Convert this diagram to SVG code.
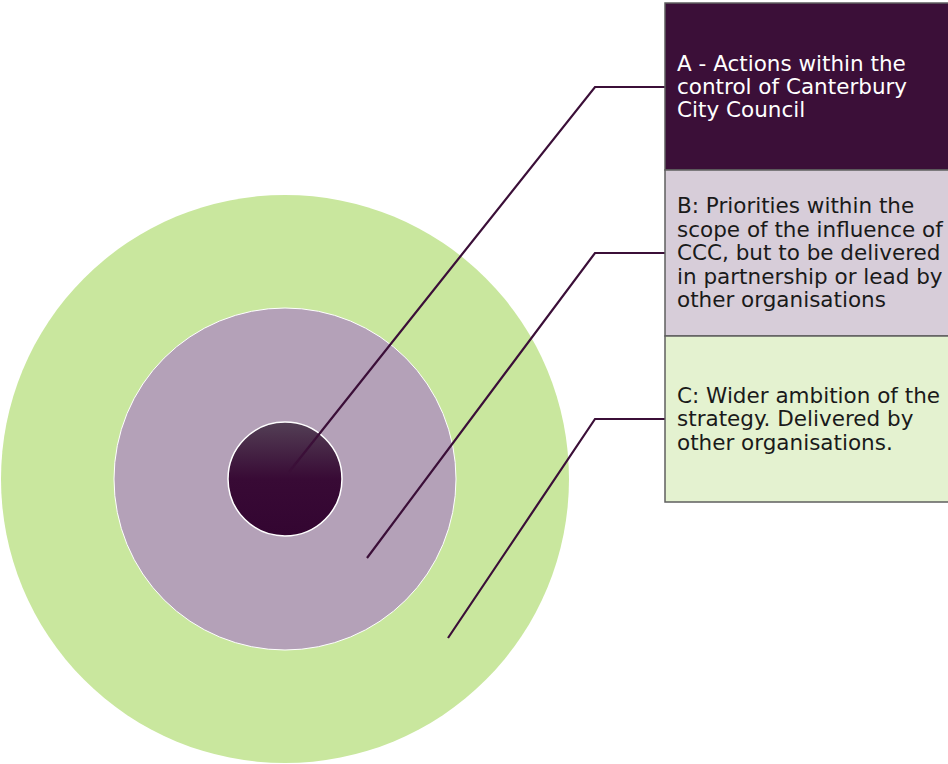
<svg xmlns="http://www.w3.org/2000/svg" width="948" height="764" viewBox="0 0 948 764">
<defs>
<linearGradient id="gA" x1="0" y1="0" x2="0" y2="1">
<stop offset="0" stop-color="#533f55"/>
<stop offset="0.5" stop-color="#380a35"/>
<stop offset="1" stop-color="#330531"/>
</linearGradient>
<style>
.box{stroke:#5f5f5f;stroke-width:1.5}
.t{font-family:"DejaVu Sans",Verdana,sans-serif;font-size:21.5px}
.conn{fill:none;stroke:#3b0f38;stroke-width:2.2}
</style>
</defs>
<g id="ringC"><circle cx="285" cy="479" r="284" fill="#c9e79e"/></g>
<g id="ringB"><circle cx="285" cy="479" r="171" fill="#b4a1b8" stroke="#ffffff" stroke-width="1"/></g>
<g id="ringA"><circle cx="285" cy="479" r="57" fill="url(#gA)" stroke="#ffffff" stroke-width="1.5"/></g>
<g id="connectors">
<polyline class="conn" points="289,472 595,87 665,87"/>
<polyline class="conn" points="367,558 595,253 665,253"/>
<polyline class="conn" points="448,638 595,419 665,419"/>
</g>
<g id="boxA">
<rect class="box" x="665" y="3" width="284" height="167" fill="#3b0f38"/>
<text class="t" fill="#ffffff"><tspan x="677" y="71">A - Actions within the</tspan><tspan x="677" y="94">control of Canterbury</tspan><tspan x="677" y="117">City Council</tspan></text>
</g>
<g id="boxB">
<rect class="box" x="665" y="170" width="284" height="166" fill="#d7cdd9"/>
<text class="t" fill="#1a1a1a"><tspan x="677" y="213">B: Priorities within the</tspan><tspan x="677" y="237">scope of the influence of</tspan><tspan x="677" y="260">CCC, but to be delivered</tspan><tspan x="677" y="284">in partnership or lead by</tspan><tspan x="677" y="307">other organisations</tspan></text>
</g>
<g id="boxC">
<rect class="box" x="665" y="336" width="284" height="166" fill="#e4f2d0"/>
<text class="t" fill="#1a1a1a"><tspan x="677" y="403">C: Wider ambition of the</tspan><tspan x="677" y="426">strategy. Delivered by</tspan><tspan x="677" y="450">other organisations.</tspan></text>
</g>
</svg>
